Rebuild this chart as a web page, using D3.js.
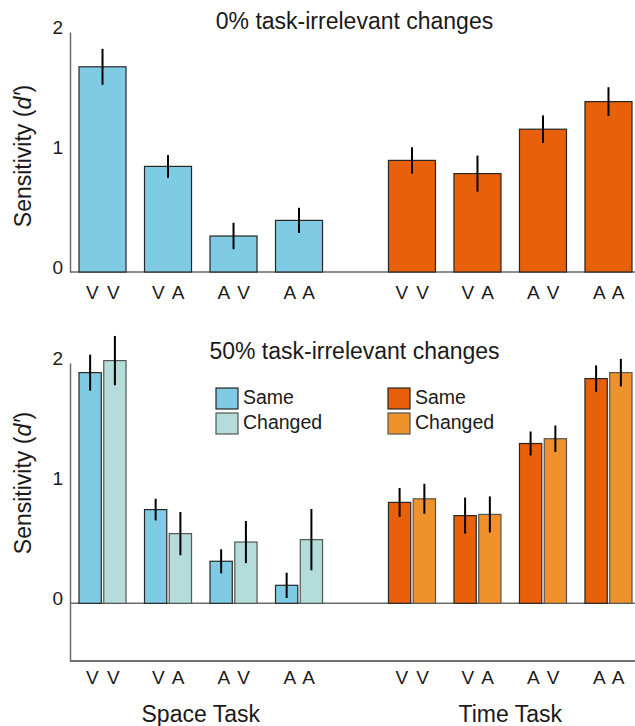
<!DOCTYPE html>
<html lang="en">
<head>
  <meta charset="UTF-8" />
  <title>Sensitivity by task and condition</title>
  <script src="https://d3js.org/d3.v7.min.js"></script>
  <style>
    body { margin: 0; background: #fff; }
    svg text { font-family: "Liberation Sans", Arial, Helvetica, sans-serif; fill: #1a1a1a; }
  </style>
</head>
<body>
  <svg id="chart" width="635" height="726"></svg>

  <script>
    // categories
    const tasks = ["Space Task", "Time Task"];
    const conditions = ["V V", "V A", "A V", "A A"];
    const kinds = ["Same", "Changed"];
    const yTicks = [0, 1, 2];

    // 0% task-irrelevant changes (mean d', error half-width)
    const zeroSpaceMean = [1.71, 0.88, 0.30, 0.43];
    const zeroSpaceErr = [0.15, 0.095, 0.11, 0.105];
    const zeroTimeMean = [0.93, 0.82, 1.19, 1.42];
    const zeroTimeErr = [0.11, 0.15, 0.115, 0.12];

    // 50% task-irrelevant changes
    const halfSpaceSame = [1.92, 0.78, 0.35, 0.15];
    const halfSpaceSameErr = [0.15, 0.09, 0.10, 0.105];
    const halfSpaceChanged = [2.02, 0.58, 0.51, 0.53];
    const halfSpaceChangedErr = [0.205, 0.18, 0.175, 0.255];
    const halfTimeSame = [0.84, 0.73, 1.33, 1.87];
    const halfTimeSameErr = [0.12, 0.15, 0.10, 0.11];
    const halfTimeChanged = [0.87, 0.74, 1.37, 1.92];
    const halfTimeChangedErr = [0.125, 0.15, 0.11, 0.115];

    const colors = {
      "Space Task": { Same: "#7fcbe3", Changed: "#b4dcda" },
      "Time Task": { Same: "#e8600a", Changed: "#f0922c" }
    };
    const strokes = { Same: "#262626", Changed: "#555" };

    const svg = d3.select("#chart");

    // shared x scales
    const x0 = d3.scaleBand().domain(tasks).range([79, 632]).paddingInner(0.213);
    const x1 = d3.scaleBand().domain(conditions).range([0, x0.bandwidth()]).paddingInner(0.282);
    const x2 = d3.scaleBand().domain(kinds).range([0, x1.bandwidth()]).paddingInner(0.1);

    function yAxis(y) {
      const g = svg.append("g")
        .attr("transform", "translate(70,0)")
        .call(d3.axisLeft(y).tickValues(yTicks).tickSize(0).tickPadding(7).tickFormat(d3.format("d")));
      g.select(".domain").attr("stroke", "#6b6b6b").attr("stroke-width", 1.5);
      g.selectAll("text").attr("font-size", 19).attr("y", -5);
      g.attr("font-family", null);
    }

    function yLabel(cy) {
      const t = svg.append("text")
        .attr("transform", `translate(31,${cy}) rotate(-90)`)
        .attr("text-anchor", "middle")
        .attr("font-size", 23);
      t.append("tspan").text("Sensitivity (");
      t.append("tspan").attr("font-style", "italic").text("d\u2032");
      t.append("tspan").text(")");
    }

    function title(txt, baseline) {
      svg.append("text")
        .attr("x", 354.5).attr("y", baseline)
        .attr("text-anchor", "middle")
        .attr("font-size", 23)
        .text(txt);
    }

    function condLabels(baseline) {
      tasks.forEach(task => {
        svg.selectAll(null)
          .data(conditions)
          .enter()
          .append("text")
          .attr("x", d => x0(task) + x1(d) + x1.bandwidth() / 2 + 1)
          .attr("y", baseline)
          .attr("text-anchor", "middle")
          .attr("font-size", 19)
          .attr("letter-spacing", 1.5)
          .text(d => d);
      });
    }

    function drawBars(rows, y) {
      // rows: {task, cond, kind, x, w, mean, err}
      svg.append("g").selectAll("rect")
        .data(rows)
        .enter()
        .append("rect")
        .attr("x", d => d.x)
        .attr("width", d => d.w)
        .attr("y", d => y(d.mean))
        .attr("height", d => y(0) - y(d.mean))
        .attr("fill", d => colors[d.task][d.kind])
        .attr("stroke", d => strokes[d.kind])
        .attr("stroke-width", 1.2);

      svg.append("g").selectAll("line")
        .data(rows)
        .enter()
        .append("line")
        .attr("x1", d => d.x + d.w / 2)
        .attr("x2", d => d.x + d.w / 2)
        .attr("y1", d => y(d.mean + d.err))
        .attr("y2", d => y(d.mean - d.err))
        .attr("stroke", "#000")
        .attr("stroke-width", 2);
    }

    // ---- top panel: 0% ----
    const yTop = d3.scaleLinear().domain([0, 2]).range([272, 32]);

    const topRows = [];
    [[zeroSpaceMean, zeroSpaceErr], [zeroTimeMean, zeroTimeErr]].forEach(([m, e], ti) => {
      conditions.forEach((c, i) => {
        topRows.push({
          task: tasks[ti], cond: c, kind: "Same",
          x: x0(tasks[ti]) + x1(c), w: x1.bandwidth(),
          mean: m[i], err: e[i]
        });
      });
    });

    svg.append("line")
      .attr("x1", 70).attr("x2", 635)
      .attr("y1", yTop(0)).attr("y2", yTop(0))
      .attr("stroke", "#6b6b6b").attr("stroke-width", 1.5);
    drawBars(topRows, yTop);
    yAxis(yTop);
    yLabel(156);
    title("0% task-irrelevant changes", 29);
    condLabels(299);

    // ---- bottom panel: 50% ----
    const yBot = d3.scaleLinear().domain([-0.48, 2]).range([661, 363]);

    const botRows = [];
    const botData = {
      "Space Task": { Same: [halfSpaceSame, halfSpaceSameErr], Changed: [halfSpaceChanged, halfSpaceChangedErr] },
      "Time Task": { Same: [halfTimeSame, halfTimeSameErr], Changed: [halfTimeChanged, halfTimeChangedErr] }
    };
    tasks.forEach(task => {
      kinds.forEach(k => {
        const [m, e] = botData[task][k];
        conditions.forEach((c, i) => {
          botRows.push({
            task: task, cond: c, kind: k,
            x: x0(task) + x1(c) + x2(k), w: x2.bandwidth(),
            mean: m[i], err: e[i]
          });
        });
      });
    });

    // box bottom + zero line
    svg.append("line")
      .attr("x1", 70).attr("x2", 635)
      .attr("y1", yBot(0)).attr("y2", yBot(0))
      .attr("stroke", "#6b6b6b").attr("stroke-width", 1.5);
    svg.append("line")
      .attr("x1", 70).attr("x2", 635)
      .attr("y1", yBot(-0.48)).attr("y2", yBot(-0.48))
      .attr("stroke", "#444").attr("stroke-width", 1.5);
    drawBars(botRows, yBot);
    yAxis(yBot);
    yLabel(483);
    title("50% task-irrelevant changes", 359);
    condLabels(684);

    // legends
    const legendX = { "Space Task": 216, "Time Task": 388 };
    tasks.forEach(task => {
      const lg = svg.append("g").attr("transform", `translate(${legendX[task]},388)`);
      kinds.forEach((k, i) => {
        lg.append("rect")
          .attr("x", 0).attr("y", i * 25)
          .attr("width", 22).attr("height", 21)
          .attr("fill", colors[task][k])
          .attr("stroke", strokes[k]).attr("stroke-width", 1.2);
        lg.append("text")
          .attr("x", 27).attr("y", i * 25 + 16)
          .attr("font-size", 19.5)
          .text(k);
      });
    });

    // task labels
    svg.selectAll(null)
      .data(tasks)
      .enter()
      .append("text")
      .attr("x", d => x0(d) + x0.bandwidth() / 2)
      .attr("y", 722)
      .attr("text-anchor", "middle")
      .attr("font-size", 23)
      .text(d => d);
  </script>
</body>
</html>
